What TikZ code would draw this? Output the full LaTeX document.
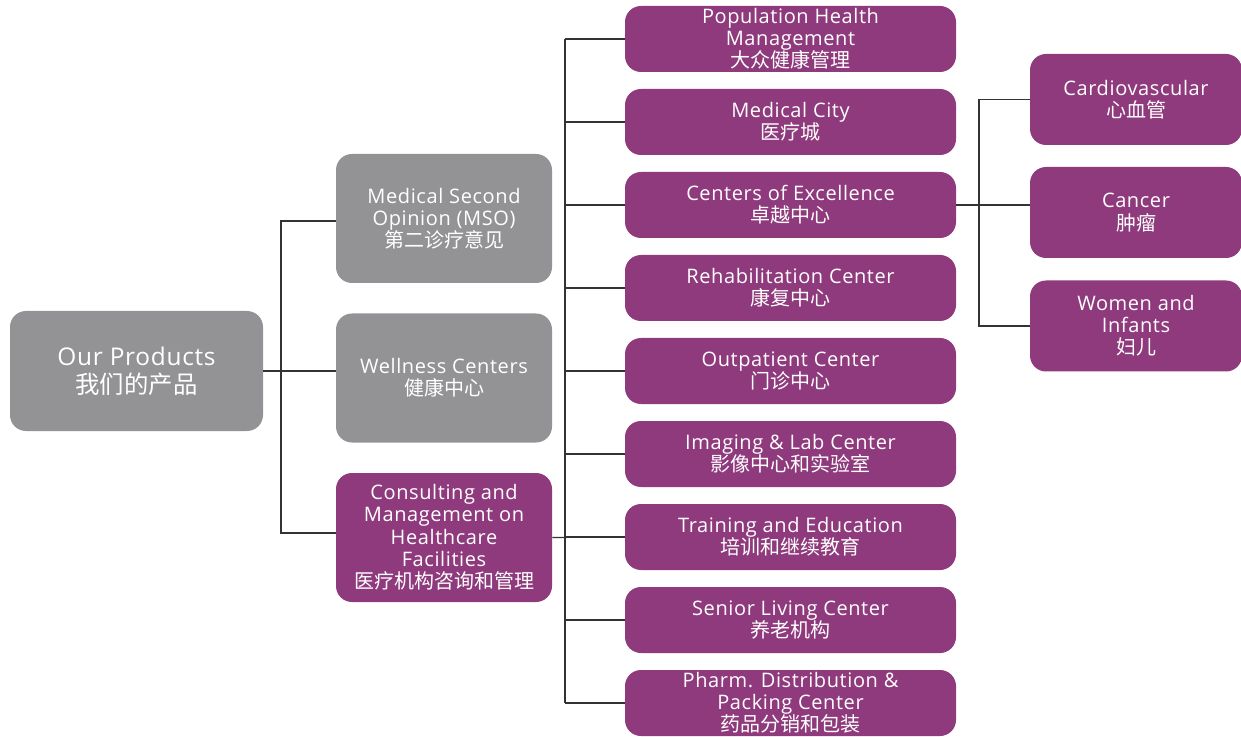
\documentclass[tikz,border=0pt]{standalone}
\usepackage{fontspec}
\setmainfont{Open Sans}[LetterSpace=3]
\newfontfamily\cjk{Noto Sans CJK SC}
\definecolor{plum}{HTML}{8F3A7D}
\definecolor{slate}{HTML}{939396}
\definecolor{wire}{HTML}{333333}

\begin{document}
\begin{tikzpicture}[x=0.5pt,y=-0.5pt,
	box/.style={rounded corners=8pt,inner sep=0pt,align=center,text=white,
		font=\fontsize{10}{11.1}\selectfont},
	graybox/.style={box,fill=slate,minimum width=108pt,minimum height=64.5pt},
	midbox/.style={box,fill=plum,minimum width=165.5pt,minimum height=33pt},
	sidebox/.style={box,fill=plum,minimum width=106pt,minimum height=45.5pt},
	link/.style={draw=wire,line width=0.6pt}]
	\useasboundingbox (0,0) rectangle (1241,737);

	\node[box,fill=slate,minimum width=126.5pt,minimum height=60pt,
		font=\fontsize{12.2}{14}\selectfont] (root) at (136.5,371) {Our Products\\\cjk 我们的产品};

	\node[graybox] (mso) at (444,218.5) {Medical Second\\Opinion (MSO)\\\cjk 第二诊疗意见};
	\node[graybox] (well) at (444,378) {Wellness Centers\\\cjk 健康中心};
	\node[graybox,fill=plum] (cons) at (444,537.5) {Consulting and\\Management on\\Healthcare\\Facilities\\\cjk 医疗机构咨询和管理};

	\node[midbox] (phm) at (790.5,39) {Population Health\\Management\\\cjk 大众健康管理};
	\node[midbox] (city) at (790.5,122) {Medical City\\\cjk 医疗城};
	\node[midbox] (coe) at (790.5,205) {Centers of Excellence\\\cjk 卓越中心};
	\node[midbox] (rehab) at (790.5,288) {Rehabilitation Center\\\cjk 康复中心};
	\node[midbox] (outp) at (790.5,371) {Outpatient Center\\\cjk 门诊中心};
	\node[midbox] (lab) at (790.5,454) {Imaging \& Lab Center\\\cjk 影像中心和实验室};
	\node[midbox] (train) at (790.5,537) {Training and Education\\\cjk 培训和继续教育};
	\node[midbox] (senior) at (790.5,620) {Senior Living Center\\\cjk 养老机构};
	\node[midbox] (pharm) at (790.5,703) {Pharm. Distribution \&\\Packing Center\\\cjk 药品分销和包装};

	\node[sidebox] (cardio) at (1136,99.5) {Cardiovascular\\\cjk 心血管};
	\node[sidebox] (cancer) at (1136,212.5) {Cancer\\\cjk 肿瘤};
	\node[sidebox] (women) at (1136,326) {Women and\\Infants\\\cjk 妇儿};

	\coordinate (top1) at (281,221);
	\coordinate (bot1) at (281,533);
	\draw[link] (root.east) -- (root.east -| well.west);
	\draw[link] (top1 -| mso.west) -- (top1) -- (bot1) -- (bot1 -| cons.west);

	\coordinate (top2) at (565,39);
	\draw[link] (cons.east) -- (train.west);
	\draw[link] (top2) -- (top2 |- pharm.west);
	\foreach \n in {phm,city,coe,rehab,outp,lab,train,senior,pharm}
		\draw[link] (top2 |- \n.west) -- (\n.west);

	\coordinate (top3) at (979,0);
	\draw[link] (coe.east) -- (coe.east -| cancer.west);
	\draw[link] (cardio.west) -- (top3 |- cardio.west) -- (top3 |- women.west) -- (women.west);
\end{tikzpicture}
\end{document}
